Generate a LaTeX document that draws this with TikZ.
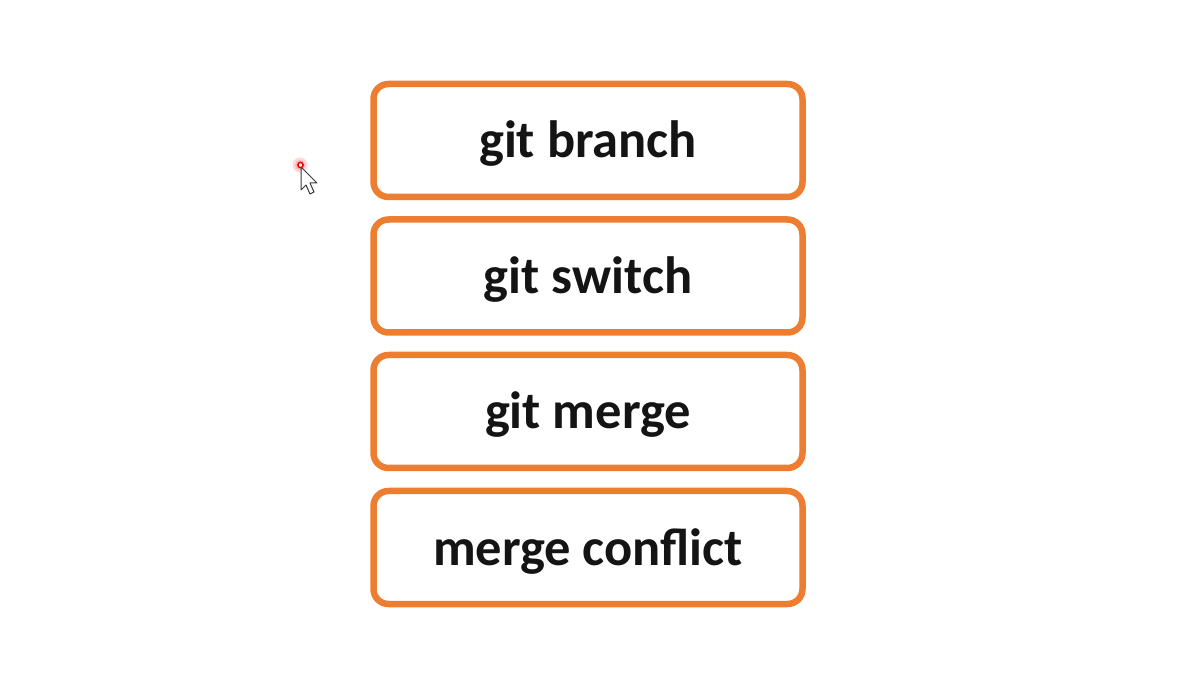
\documentclass[tikz,border=0pt]{standalone}
\usepackage{fontspec}
\setmainfont{Carlito}
\definecolor{boxorange}{HTML}{ED7D31}
\definecolor{cursorgray}{HTML}{3A3A3A}
\begin{document}
\begin{tikzpicture}[x=1pt,y=-1pt,
  cmdbox/.style={draw=boxorange, line width=6.5pt, rounded corners=15pt,
    fill=white, minimum width=429pt, minimum height=113pt,
    font=\fontsize{52.5}{60}\selectfont\bfseries, text=black!92,
    text height=40pt, text depth=5pt, inner sep=0pt}]
\fill[white] (0,0) rectangle (1192,684);
\useasboundingbox (0,0) rectangle (1192,684);
\node[cmdbox] (branch) at (588,140.5) {git branch};
\node[cmdbox] (switch) at (588,276) {git switch};
\node[cmdbox] (merge) at (588,411.5) {git merge};
\node[cmdbox] (conflict) at (588,547.5) {merge conflict};
% mouse pointer
\fill[red!25, opacity=0.6] (300,165) circle (7.5);
\fill[red!45, opacity=0.5] (300,165) circle (5);
\fill[white, draw=cursorgray, line width=1pt, line join=round]
  (301,167) -- (301,190) -- (306,185) -- (310,194) -- (314,192) -- (310,183) -- (317,183) -- cycle;
\draw[red!90!black, line width=1.4pt, fill=white] (300.5,165) circle (2.6);
\end{tikzpicture}
\end{document}
